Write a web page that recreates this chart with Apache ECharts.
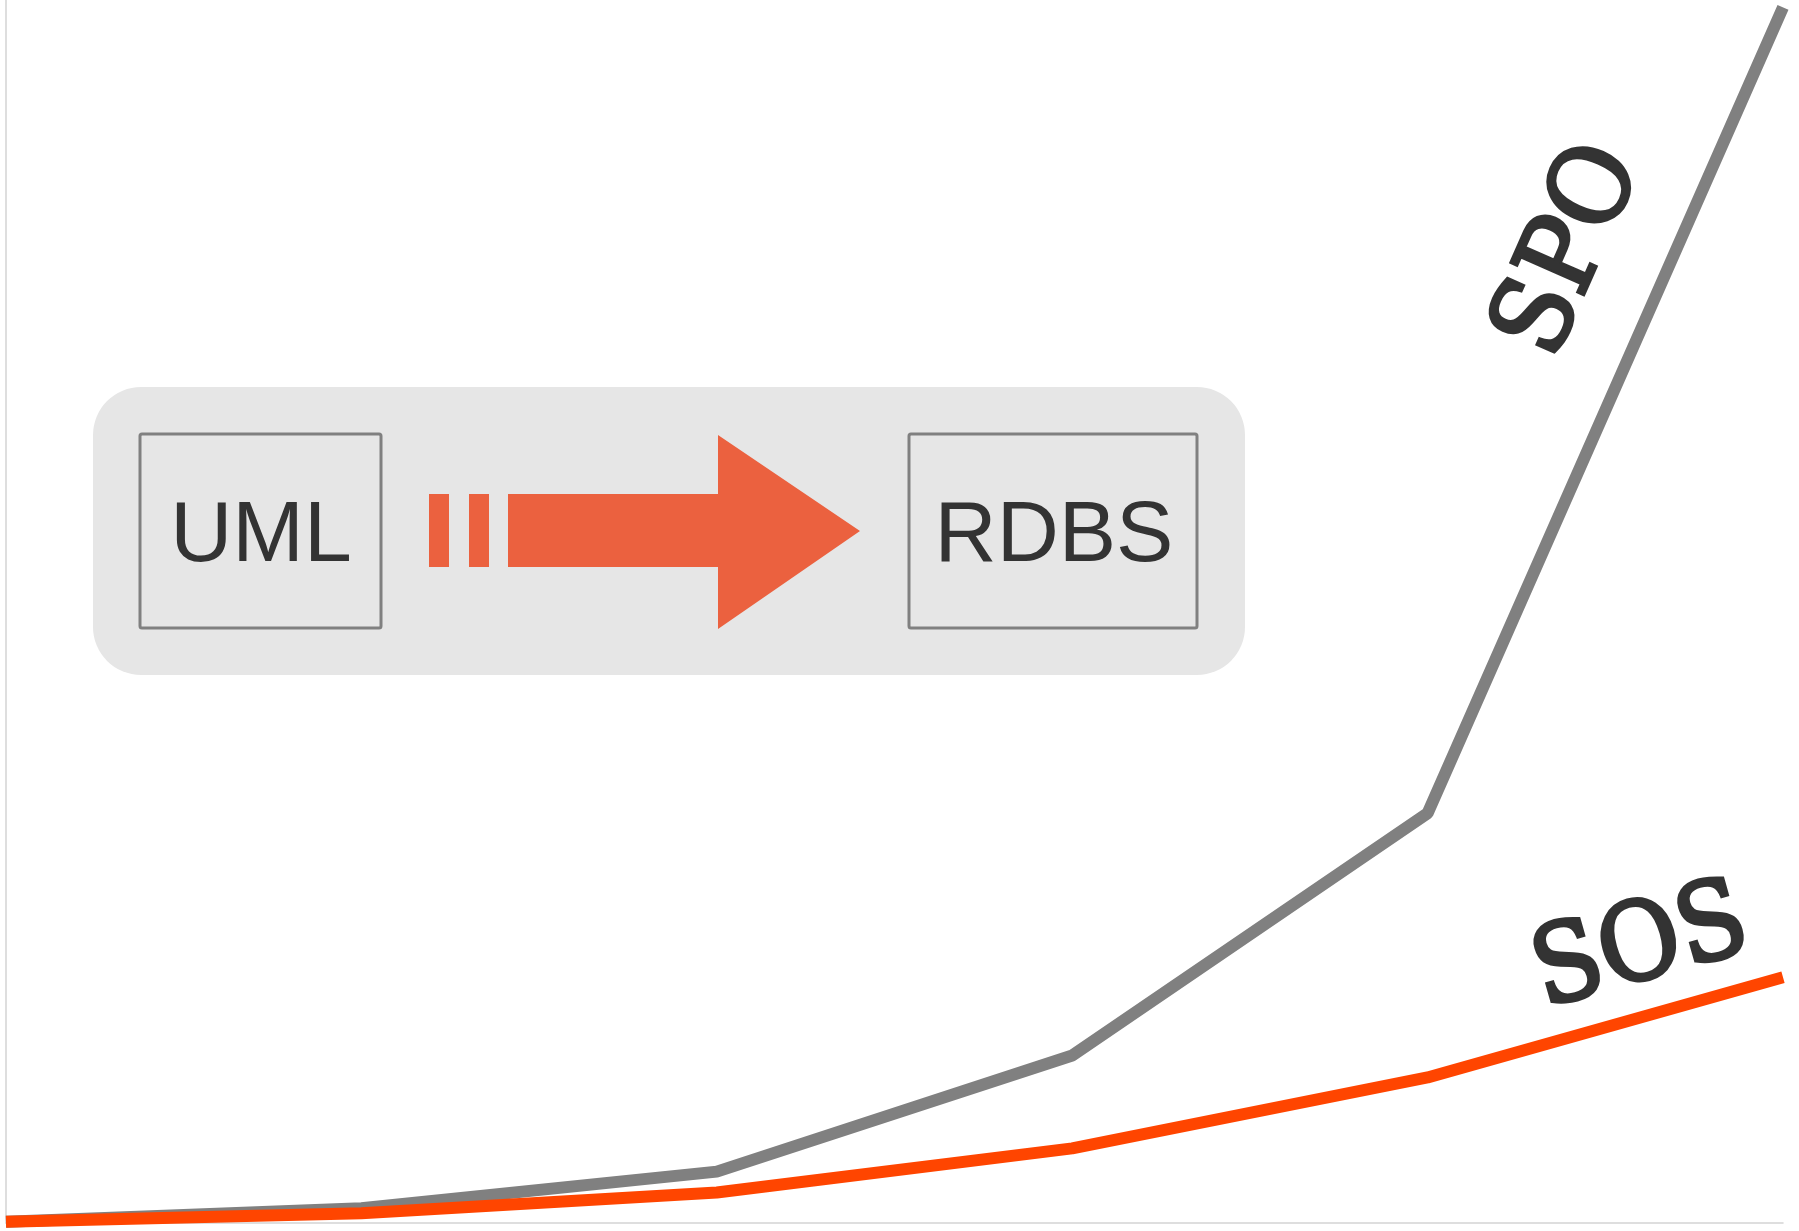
<!DOCTYPE html>
<html>
<head>
<meta charset="utf-8">
<script src="https://cdn.jsdelivr.net/npm/echarts@6/dist/echarts.min.js"></script>
<style>
  html, body { margin: 0; padding: 0; background: #fff; }
  #main { width: 1799px; height: 1231px; }
</style>
</head>
<body>
<div id="main"></div>
<script>
// данные
const categories = ['1', '2', '3', '4', '5', '6'];
const seriesNames = ['SPO', 'SOS'];
const spoValues = [0.1, 1.2, 4.2, 13.7, 33.5, 99.4];
const sosValues = [0.1, 0.8, 2.5, 6.1, 11.9, 20.1];
const seriesColors = ['#808080', '#FF4500'];

const chart = echarts.init(document.getElementById('main'), null, { renderer: 'canvas' });

// схема UML -> RDBS в центре
const accent = '#EB613F';
const boxFont = '86px "Liberation Sans"';
const diagram = [
    { type: 'rect', shape: { x: 93, y: 387, width: 1152, height: 288, r: 48 }, style: { fill: '#E6E6E6' } },
    { type: 'rect', shape: { x: 140, y: 434, width: 241, height: 194, r: 2 }, style: { fill: 'none', stroke: '#808080', lineWidth: 3 } },
    { type: 'text', x: 261, y: 537, style: { text: 'UML', font: boxFont, fill: '#333', align: 'center', verticalAlign: 'middle' } },
    { type: 'rect', shape: { x: 429, y: 494, width: 20, height: 73 }, style: { fill: accent } },
    { type: 'rect', shape: { x: 469, y: 494, width: 20, height: 73 }, style: { fill: accent } },
    { type: 'polygon', shape: { points: [[508, 494], [718, 494], [718, 435], [860, 531], [718, 629], [718, 567], [508, 567]] }, style: { fill: accent } },
    { type: 'rect', shape: { x: 909, y: 434, width: 288, height: 194, r: 2 }, style: { fill: 'none', stroke: '#808080', lineWidth: 3 } },
    { type: 'text', x: 1054, y: 537, style: { text: 'RDBS', font: boxFont, fill: '#333', align: 'center', verticalAlign: 'middle' } }
];

const option = {
    animation: false,
    grid: { left: 6, right: 16, top: 0, bottom: 8 },
    xAxis: {
        type: 'category',
        data: categories,
        boundaryGap: false,
        axisLine: { lineStyle: { color: '#d3d3d3', width: 1.5 } },
        axisTick: { show: false },
        axisLabel: { show: false }
    },
    yAxis: {
        type: 'value',
        min: 0,
        max: 100,
        axisLine: { show: true, lineStyle: { color: '#d3d3d3', width: 1.5 } },
        axisTick: { show: false },
        axisLabel: { show: false },
        splitLine: { show: false }
    },
    series: [
        { name: seriesNames[0], type: 'line', data: spoValues, symbol: 'none', lineStyle: { color: seriesColors[0], width: 12 } },
        { name: seriesNames[1], type: 'line', data: sosValues, symbol: 'none', lineStyle: { color: seriesColors[1], width: 12 } }
    ],
    graphic: diagram
};

chart.setOption(option);

// подписи серий вдоль последнего отрезка линии
const labelOffsets = [95, 64];
const labels = [spoValues, sosValues].map(function(values, idx) {
    const n = values.length;
    const p0 = chart.convertToPixel({ seriesIndex: idx }, [n - 2, values[n - 2]]);
    const p1 = chart.convertToPixel({ seriesIndex: idx }, [n - 1, values[n - 1]]);
    const dx = p1[0] - p0[0], dy = p1[1] - p0[1];
    const len = Math.sqrt(dx * dx + dy * dy);
    const nx = dy / len, ny = -dx / len;
    const t = 0.65;
    return {
        type: 'text',
        x: p0[0] + dx * t + nx * labelOffsets[idx],
        y: p0[1] + dy * t + ny * labelOffsets[idx],
        rotation: Math.atan2(-dy, dx),
        scaleX: 0.92,
        z: 10,
        style: {
            text: seriesNames[idx],
            font: '108px "DejaVu Serif"',
            fill: '#333',
            stroke: '#333',
            lineWidth: 4,
            lineJoin: 'round',
            align: 'center',
            verticalAlign: 'middle'
        }
    };
});

chart.setOption({ graphic: diagram.concat(labels) });

window.addEventListener('resize', function() {
    chart.resize();
});
</script>
</body>
</html>
